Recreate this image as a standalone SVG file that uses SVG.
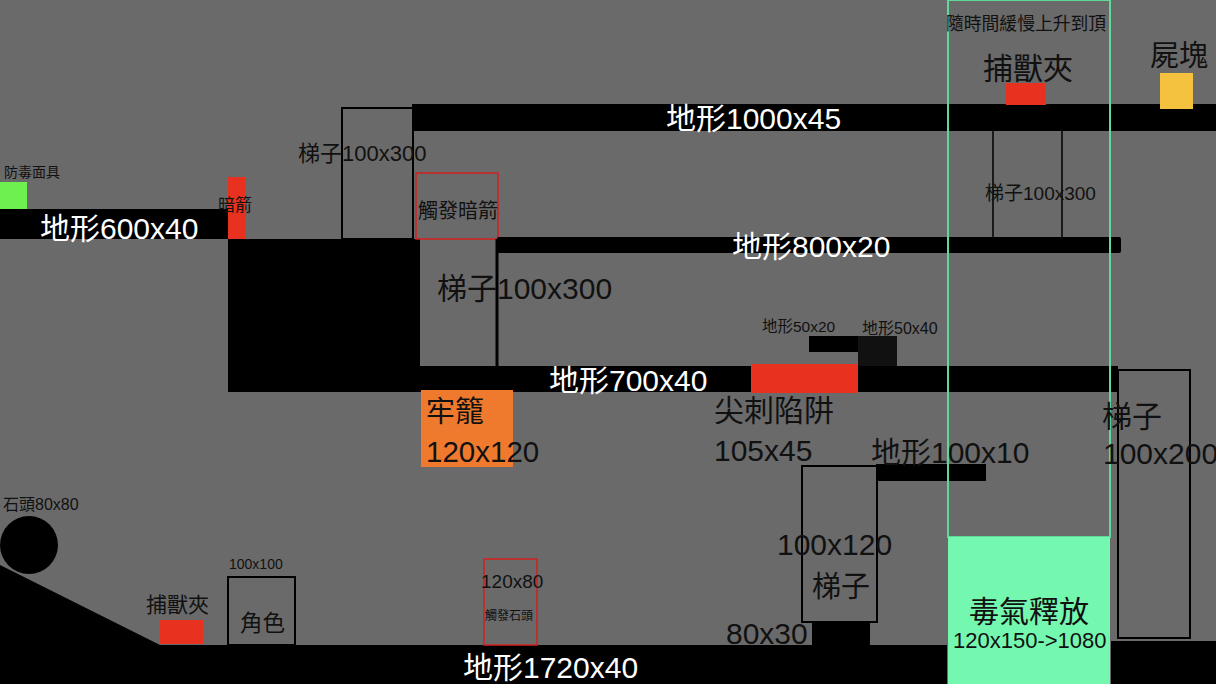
<svg xmlns="http://www.w3.org/2000/svg" width="1216" height="684" viewBox="0 0 1216 684">
<style>
text{font-family:"Liberation Sans","Noto Sans CJK TC",sans-serif;fill:#111}
.w{fill:#fff}
.blk{fill:#000}
.lad{fill:none;stroke:#000;stroke-width:2}
.red{fill:#e8321f}
.trig{fill:none;stroke:#d42020;stroke-width:1.5}
</style>
<rect width="1216" height="684" fill="#6a6a6a"/>
<g id="terrain600"><rect class="blk" x="0" y="209" width="229" height="30"/><text class="w" x="40" y="239" font-size="30">地形600x40</text></g>
<g id="mask"><rect x="0" y="182" width="27" height="27" fill="#6ef04f"/><text x="4" y="177" font-size="14">防毒面具</text></g>
<g id="darkarrow"><rect class="red" x="228" y="177" width="18" height="62"/><text x="218" y="211" font-size="17">暗箭</text></g>
<g id="block"><rect class="blk" x="228" y="239" width="192" height="153"/></g>
<g id="ladder-top"><rect class="lad" x="342" y="108" width="71" height="131"/><text x="298" y="161" font-size="22">梯子100x300</text></g>
<g id="terrain1000"><rect class="blk" x="412" y="104" width="804" height="27"/><text class="w" x="666" y="129" font-size="30">地形1000x45</text></g>
<g id="trigger-arrow"><rect class="trig" x="416" y="173" width="82" height="66"/><text x="418" y="218" font-size="20">觸發暗箭</text></g>
<g id="terrain800"><rect class="blk" x="497" y="237" width="624" height="16" rx="2"/><text class="w" x="732" y="257" font-size="30">地形800x20</text></g>
<g id="ladder-mid"><line x1="497" y1="239" x2="497" y2="366" stroke="#000" stroke-width="3"/><text x="437" y="299" font-size="30">梯子100x300</text></g>
<g id="terrain700"><rect class="blk" x="228" y="366" width="890" height="26"/><text class="w" x="549" y="391" font-size="30">地形700x40</text></g>
<g id="spike"><rect class="red" x="751" y="364" width="107" height="29"/><text x="714" y="421" font-size="30">尖刺陷阱</text><text x="714" y="461" font-size="30">105x45</text></g>
<g id="terrain50x20"><rect class="blk" x="809" y="336" width="50" height="16"/><text x="762" y="332" font-size="15.5">地形50x20</text></g>
<g id="terrain50x40"><rect x="858" y="336" width="39" height="30" fill="#111"/><text x="862" y="334" font-size="16">地形50x40</text></g>
<g id="cage"><rect x="421" y="390" width="92" height="77" fill="#ef7a2e"/><text x="426" y="422" font-size="29">牢籠</text><text x="426" y="462" font-size="29.5">120x120</text></g>
<g id="ladder-low"><rect class="lad" x="802" y="466" width="75" height="156"/><text x="777" y="555" font-size="30">100x120</text><text x="812" y="597" font-size="29">梯子</text></g>
<g id="terrain100x10"><rect class="blk" x="876" y="464" width="110" height="17"/><text x="871" y="463" font-size="30">地形100x10</text></g>
<g id="step80x30"><rect class="blk" x="812" y="621" width="58" height="25"/><text x="726" y="644" font-size="30">80x30</text></g>
<g id="ground"><rect class="blk" x="0" y="645" width="947" height="39"/><rect class="blk" x="1111" y="641" width="105" height="43"/><path class="blk" d="M0 565 L160 645 L0 645 Z"/><text class="w" x="463" y="678" font-size="30">地形1720x40</text></g>
<g id="stone"><circle class="blk" cx="29" cy="545" r="29"/><text x="3" y="510" font-size="16">石頭80x80</text></g>
<g id="trap-bottom"><rect class="red" x="160" y="620" width="43" height="24"/><text x="146" y="612" font-size="21">捕獸夾</text></g>
<g id="hero"><rect class="lad" x="228" y="577" width="67" height="68"/><text x="229" y="569" font-size="14">100x100</text><text x="240" y="631" font-size="22.5">角色</text></g>
<g id="trigger-stone"><rect class="trig" x="484" y="559" width="53" height="86"/><text x="481" y="588" font-size="19">120x80</text><text x="485" y="620" font-size="12">觸發石頭</text></g>
<g id="gas"><rect x="948" y="0" width="162" height="537" fill="none" stroke="#5fd99a" stroke-width="2"/><rect x="948" y="537" width="162" height="147" fill="#74f7ae"/><text x="946" y="30" font-size="17.8">隨時間緩慢上升到頂</text><text x="969" y="622" font-size="30">毒氣釋放</text><text x="953" y="648" font-size="22">120x150-&gt;1080</text></g>
<g id="trap-top"><rect class="red" x="1006" y="83" width="40" height="22"/><text x="983" y="79" font-size="30">捕獸夾</text></g>
<g id="ladder-right-top"><line x1="993" y1="131" x2="993" y2="237" stroke="#000" stroke-width="1.5"/><line x1="1062" y1="131" x2="1062" y2="237" stroke="#000" stroke-width="1.5"/><text x="985" y="200" font-size="19">梯子100x300</text></g>
<g id="corpse"><rect x="1160" y="73" width="33" height="36" fill="#f4c23f"/><text x="1150" y="66" font-size="29">屍塊</text></g>
<g id="ladder-right"><rect class="lad" x="1118" y="370" width="72" height="268"/><text x="1102" y="427" font-size="30">梯子</text><text x="1103" y="464" font-size="30">100x200</text></g>
</svg>
